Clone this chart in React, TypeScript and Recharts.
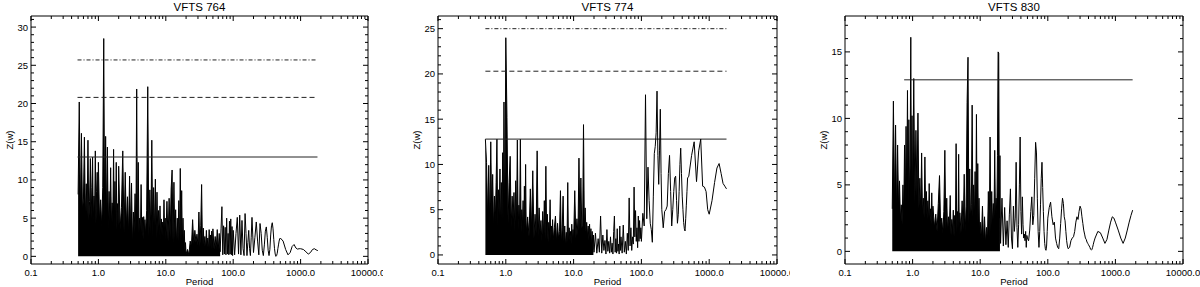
import React from "react";
import { Area, ComposedChart, Line, XAxis, YAxis } from "recharts";

// shared period grid (days)
const PERIODS = [
  0.5, 0.52, 0.54, 0.56, 0.58, 0.6, 0.62, 0.64, 0.66, 0.68, 0.7, 0.72, 0.74, 0.76, 0.78, 0.8, 0.82, 0.84, 0.86, 0.88, 0.9, 0.92, 0.94, 0.96, 0.98,
  1, 1.04, 1.08, 1.12, 1.16, 1.2, 1.24, 1.28, 1.32, 1.36, 1.4, 1.44, 1.48, 1.52, 1.56, 1.6, 1.64, 1.68, 1.72, 1.76, 1.8, 1.84, 1.88, 1.92, 1.96,
  2, 2.1, 2.2, 2.3, 2.4, 2.5, 2.6, 2.7, 2.8, 2.9, 3, 3.1, 3.2, 3.3, 3.4, 3.5, 3.6, 3.7, 3.8, 3.9, 4, 4.1, 4.2, 4.3, 4.4, 4.5, 4.6, 4.7, 4.8, 4.9,
  5, 5.2, 5.4, 5.6, 5.8, 6, 6.2, 6.4, 6.6, 6.8, 7, 7.2, 7.4, 7.6, 7.8, 8, 8.2, 8.4, 8.6, 8.8, 9, 9.2, 9.4, 9.6, 9.8,
  10, 10.4, 10.8, 11.2, 11.6, 12, 12.4, 12.8, 13.2, 13.6, 14, 14.4, 14.8, 15.2, 15.6, 16, 16.4, 16.8, 17.2, 17.6, 18, 18.4, 18.8, 19.2, 19.6,
  20, 21, 22, 23, 24, 25, 26, 27, 28, 29, 30, 31, 32, 33, 34, 35, 36, 37, 38, 39, 40, 41, 42, 43, 44, 45, 46, 47, 48, 49,
  50, 52, 54, 56, 58, 60, 62, 64, 66, 68, 70, 72, 74, 76, 78, 80, 82, 84, 86, 88, 90, 92, 94, 96, 98,
  100, 105, 110, 115, 120, 125, 130, 135, 140, 145, 150, 155, 160, 165, 170, 175, 180, 185, 190, 195,
  200, 210, 220, 230, 240, 250, 260, 270, 280, 290, 300, 310, 320, 330, 340, 350, 360, 370, 380, 390, 400, 410, 420, 430, 440, 450, 460, 470, 480, 490,
  500, 550, 600, 650, 700, 750, 800, 850, 900, 950,
  1000, 1100, 1200, 1300, 1400, 1500, 1600, 1700, 1800,
];

const Z_764 = [
  8.1, 20.2, 5.5, 16.1, 6.0, 7.5, 15.6, 4.8, 9.5, 5.2, 15.2, 4.6, 7.2, 12.8, 5.0, 9.0, 13.0, 4.4, 7.9, 5.6, 13.8, 4.2, 8.5, 11.0, 5.0,
  12.3, 4.5, 7.4, 3.8, 9.0, 28.5, 4.2, 15.7, 5.0, 14.3, 3.5, 8.5, 4.6, 11.6, 3.9, 7.0, 4.4, 14.0, 3.6, 9.8, 4.2, 12.3, 3.4, 6.9, 4.0,
  11.8, 3.6, 6.4, 13.8, 3.2, 11.0, 3.8, 7.8, 2.9, 10.5, 3.4, 9.6, 1.5, 5.8, 3.0, 8.2, 3.5, 21.9, 2.6, 12.3, 3.2, 5.0, 2.4, 9.4, 3.0, 5.1, 2.2, 5.2, 3.1, 4.8,
  2.8, 6.0, 22.2, 2.5, 8.7, 3.0, 15.2, 2.4, 9.0, 3.2, 10.1, 2.2, 8.4, 2.9, 6.0, 2.6, 6.6, 2.0, 4.9, 2.7, 4.5, 2.3, 7.4, 2.5, 5.0,
  2.2, 7.2, 2.0, 7.6, 2.4, 8.8, 11.3, 1.8, 9.7, 2.1, 6.1, 1.6, 5.0, 2.0, 7.3, 1.7, 11.5, 1.9, 8.6, 1.5, 5.0, 1.2, 3.4, 0.8, 1.8,
  0.3, 0.9, 0.2, 2.0, 1.2, 4.8, 1.6, 3.4, 1.8, 2.9, 1.5, 5.8, 1.2, 4.0, 9.4, 1.0, 3.7, 1.3, 2.6, 0.9, 3.4, 1.2, 2.4, 0.8, 3.5, 1.1, 2.8, 0.9, 3.3, 0.8,
  3.6, 0.9, 2.6, 1.0, 3.5, 0.8, 3.0, 0.6, 3.6, 6.5, 0.2, 4.0, 0.3, 3.8, 0.2, 5.0, 0.3, 3.0, 0.2, 4.6, 0.3, 4.9, 0.2, 3.9, 0.1,
  3.4, 0.2, 3.0, 5.1, 0.3, 5.4, 0.2, 4.7, 1.0, 0.1, 5.6, 3.0, 0.1, 1.8, 3.4, 1.0, 0.1, 2.5, 5.1, 2.8,
  0.5, 2.5, 4.5, 2.0, 0.2, 4.3, 3.0, 0.8, 0.1, 1.5, 3.3, 3.85, 2.5, 0.8, 0.1, 0.9, 2.8, 4.0, 4.4, 3.6, 2.2, 1.0, 0.3, 0.0, 0.1, 0.4, 1.0, 1.5, 2.0, 2.3,
  2.4, 2.0, 0.9, 0.2, 0.5, 1.3, 1.55, 1.1, 0.95, 1.0,
  1.0, 0.9, 0.6, 0.3, 0.5, 0.9, 1.0, 0.85, 0.75,
];

const Z_774 = [
  12.8, 10.2, 4.0, 9.9, 3.2, 12.5, 4.5, 8.9, 2.8, 6.5, 3.6, 8.0, 12.8, 3.0, 7.2, 4.2, 9.5, 2.6, 8.0, 3.8, 11.3, 3.0, 16.9, 4.4, 10.5,
  24.0, 15.2, 3.5, 8.0, 10.9, 3.0, 6.5, 4.0, 6.9, 2.6, 8.2, 3.4, 12.7, 2.8, 5.5, 3.6, 12.8, 2.5, 5.0, 3.2, 6.0, 2.2, 7.6, 3.0, 10.0,
  2.5, 4.2, 2.0, 7.3, 2.8, 9.3, 1.8, 4.5, 2.4, 11.5, 2.0, 5.2, 2.6, 3.8, 1.5, 4.8, 2.2, 6.0, 1.7, 9.8, 2.3, 4.5, 1.4, 3.6, 2.0, 6.1, 1.6, 3.2, 2.1, 3.9,
  1.6, 3.0, 4.3, 1.4, 3.5, 1.8, 2.6, 7.1, 1.2, 3.0, 6.5, 1.5, 3.2, 1.0, 2.5, 1.3, 8.0, 1.1, 3.0, 1.6, 2.6, 1.2, 3.4, 1.5, 2.8,
  1.5, 7.1, 1.8, 4.0, 2.2, 10.7, 2.8, 8.5, 3.0, 3.2, 14.4, 3.0, 5.2, 2.6, 3.6, 2.0, 3.2, 1.6, 3.4, 1.2, 2.9, 0.9, 2.6, 0.6, 2.2,
  0.3, 2.4, 0.2, 1.8, 0.3, 4.3, 0.2, 2.2, 0.5, 1.6, 0.1, 2.8, 0.4, 1.5, 0.2, 2.0, 0.3, 1.3, 0.1, 2.6, 4.3, 0.3, 1.8, 0.2, 2.9, 0.4, 1.2, 0.1, 3.2, 0.5,
  2.0, 0.2, 3.3, 0.3, 1.5, 0.1, 2.4, 0.5, 6.3, 1.0, 3.0, 0.5, 2.0, 1.2, 7.5, 2.0, 4.9, 1.5, 3.0, 0.8, 4.3, 1.5, 3.8, 1.8, 3.0,
  1.5, 4.6, 3.2, 17.7, 4.0, 9.7, 6.0, 3.5, 2.8, 1.4, 6.5, 11.2, 12.0, 13.5, 18.1, 11.0, 7.8, 11.5, 16.1, 9.0,
  5.0, 3.0, 4.8, 5.0, 5.4, 9.0, 11.0, 7.0, 3.2, 5.0, 7.0, 8.5, 8.7, 6.0, 3.5, 4.5, 7.0, 10.0, 11.8, 9.0, 6.5, 5.0, 3.6, 2.9, 2.65, 4.0, 5.5, 7.0, 8.5, 8.6,
  8.7, 11.0, 12.5, 8.1, 11.5, 12.8, 7.6, 7.5, 7.0, 5.0,
  4.5, 6.0, 8.0, 9.6, 10.1, 9.0, 7.9, 7.6, 7.3,
];

const Z_830 = [
  3.2, 11.3, 3.5, 9.5, 2.8, 8.0, 3.2, 5.3, 2.4, 3.5, 2.0, 5.0, 2.6, 8.0, 3.4, 9.4, 4.0, 12.1, 3.6, 9.9, 4.2, 6.5, 16.1, 4.5, 10.2,
  4.0, 13.0, 3.6, 9.1, 4.2, 10.4, 3.2, 5.5, 3.0, 7.4, 2.8, 4.0, 2.5, 7.1, 2.9, 4.5, 2.4, 3.8, 2.2, 5.1, 2.6, 3.2, 2.0, 4.4, 2.3,
  3.4, 1.8, 2.8, 1.5, 3.6, 5.7, 1.9, 2.5, 1.4, 3.0, 7.6, 1.6, 4.0, 1.3, 2.6, 1.7, 4.2, 1.2, 2.4, 1.6, 3.1, 1.1, 2.7, 1.5, 8.1, 1.3, 3.0, 1.6, 7.3, 1.2,
  2.9, 1.4, 3.8, 1.6, 5.8, 1.5, 3.4, 11.2, 14.6, 2.0, 6.2, 2.4, 3.5, 11.0, 2.6, 5.0, 2.2, 6.0, 2.5, 10.3, 2.0, 6.6, 1.6, 4.0, 1.2,
  2.2, 0.9, 3.4, 0.7, 2.6, 0.6, 1.8, 0.8, 4.5, 1.0, 8.6, 1.5, 4.5, 2.0, 3.6, 2.4, 7.6, 2.6, 4.0, 2.8, 7.2, 15.0, 14.9, 2.5, 7.2,
  0.6, 4.0, 0.4, 3.3, 0.5, 2.3, 0.3, 2.8, 4.7, 1.0, 0.2, 3.4, 1.5, 2.5, 6.7, 1.8, 0.3, 2.0, 5.0, 8.6, 3.0, 1.3, 4.1, 2.0, 1.0, 1.3, 0.8, 1.5, 0.3, 1.2,
  1.0, 0.8, 1.6, 3.0, 4.1, 2.0, 2.7, 5.5, 8.2, 7.4, 4.0, 1.5, 0.3, 1.5, 3.5, 5.5, 6.7, 4.8, 3.0, 1.5, 0.6, 0.2, 0.08, 0.4, 1.5,
  2.5, 3.3, 3.7, 2.6, 2.0, 2.2, 1.0, 0.6, 0.3, 0.2, 1.0, 2.1, 3.2, 4.0, 3.6, 2.6, 2.3, 1.5, 0.8, 0.4,
  0.2, 0.3, 0.8, 1.0, 1.1, 1.5, 2.2, 2.6, 2.4, 3.0, 3.4, 3.2, 2.6, 2.1, 1.6, 1.3, 1.0, 0.9, 0.7, 0.6, 0.5, 0.4, 0.3, 0.15, 0.1, 0.15, 0.3, 0.5, 0.7, 0.85,
  1.0, 1.5, 1.4, 1.0, 0.6, 0.9, 1.6, 2.2, 2.6, 2.5,
  2.2, 1.6, 1.0, 0.6, 1.0, 1.6, 2.2, 2.7, 3.1,
];

// false-alarm levels (dash-dot, dashed, solid)
const THRESH_764 = [25.7, 20.8, 13.0];
const THRESH_774 = [25.0, 20.3, 12.8];
const THRESH_830 = [12.9];
const SPAN_764 = [0.49, 1780];
const SPAN_774 = [0.5, 1800];
const SPAN_830 = [0.75, 1800];

const X_MAJOR = [0.1, 1, 10, 100, 1000, 10000];
const X_LABELS = ["0.1", "1.0", "10.0", "100.0", "1000.0", "10000.0"];
const X_MINOR = [
  0.2, 0.3, 0.4, 0.5, 0.6, 0.7, 0.8, 0.9, 2, 3, 4, 5, 6, 7, 8, 9, 20, 30, 40, 50, 60, 70, 80, 90,
  200, 300, 400, 500, 600, 700, 800, 900, 2000, 3000, 4000, 5000, 6000, 7000, 8000, 9000,
];
const X_TICKS = [...X_MAJOR, ...X_MINOR];

const FONT = "'Liberation Sans', Arial, Helvetica, sans-serif";
const INK = "#000";

const intTicks = (max: number) => Array.from({ length: max + 1 }, (_, i) => i);

function BottomTick(props: any) {
  const { x, y, payload } = props;
  const i = X_MAJOR.indexOf(payload.value);
  return (
    <g>
      <line x1={x} x2={x} y1={y} y2={y - (i >= 0 ? 5 : 3)} stroke={INK} />
      {i >= 0 && (
        <text x={x} y={y + 12} textAnchor="middle" fontSize={9.5} fontFamily={FONT} fill={INK}>
          {X_LABELS[i]}
        </text>
      )}
    </g>
  );
}

function TopTick(props: any) {
  const { x, y, payload } = props;
  const major = X_MAJOR.includes(payload.value);
  return <line x1={x} x2={x} y1={y} y2={y + (major ? 5 : 3)} stroke={INK} />;
}

function LeftTick(props: any) {
  const { x, y, payload } = props;
  const major = payload.value % 5 === 0;
  return (
    <g>
      <line x1={x} x2={x + (major ? 5 : 3)} y1={y} y2={y} stroke={INK} />
      {major && (
        <text x={x - 3} y={y + 3.5} textAnchor="end" fontSize={9.5} fontFamily={FONT} fill={INK}>
          {payload.value}
        </text>
      )}
    </g>
  );
}

function RightTick(props: any) {
  const { x, y, payload } = props;
  const major = payload.value % 5 === 0;
  return <line x1={x} x2={x - (major ? 5 : 3)} y1={y} y2={y} stroke={INK} />;
}

const DASHES = ["4 2 1 2", "5 3", undefined];

type PanelProps = {
  left: number;
  width: number;
  frameL: number;
  frameR: number;
  title: string;
  z: number[];
  thresholds: number[];
  span: number[];
  yDomain: [number, number];
  yMax: number;
  denseLimit: number;
};

function Panel({ left, width, frameL, frameR, title, z, thresholds, span, yDomain, yMax, denseLimit }: PanelProps) {
  const rows = PERIODS.map((p, i) => ({ p, z: z[i] }));
  // unresolved short-period forest drawn filled, the rest as a line
  const dense = rows.filter((r) => r.p <= denseLimit);
  const tail = rows.filter((r) => r.p >= denseLimit);
  const plotL = frameL - left;
  const plotR = frameR - left;
  const cx = (plotL + plotR) / 2;
  const yTicks = intTicks(yMax);
  const dashes = thresholds.length === 1 ? [undefined] : DASHES;

  return (
    <div style={{ position: "absolute", left, top: 0, width, height: 287, overflow: "hidden" }}>
      <ComposedChart
        width={width}
        height={287}
        margin={{ top: 15, right: width - plotR - 1, bottom: 22, left: plotL - 1 }}
      >
        <XAxis
          dataKey="p"
          type="number"
          scale="log"
          domain={[0.1, 10000]}
          allowDataOverflow
          ticks={X_TICKS}
          interval={0}
          tick={BottomTick}
          tickLine={false}
          tickSize={0}
          tickMargin={0}
          height={1}
          stroke={INK}
        />
        <XAxis
          xAxisId="t"
          orientation="top"
          dataKey="p"
          type="number"
          scale="log"
          domain={[0.1, 10000]}
          allowDataOverflow
          ticks={X_TICKS}
          interval={0}
          tick={TopTick}
          tickLine={false}
          tickSize={0}
          tickMargin={0}
          height={1}
          stroke={INK}
        />
        <YAxis
          type="number"
          domain={yDomain}
          allowDataOverflow
          ticks={yTicks}
          interval={0}
          tick={LeftTick}
          tickLine={false}
          tickSize={0}
          tickMargin={0}
          width={1}
          stroke={INK}
        />
        <YAxis
          yAxisId="r"
          orientation="right"
          type="number"
          domain={yDomain}
          allowDataOverflow
          ticks={yTicks}
          interval={0}
          tick={RightTick}
          tickLine={false}
          tickSize={0}
          tickMargin={0}
          width={1}
          stroke={INK}
        />
        {thresholds.map((t, i) => (
          <Line
            key={"t" + i}
            data={[
              { p: span[0], z: t },
              { p: span[1], z: t },
            ]}
            dataKey="z"
            xAxisId={i === thresholds.length - 1 ? "t" : 0}
            yAxisId={i === thresholds.length - 1 ? "r" : 0}
            stroke="#222"
            strokeWidth={1}
            strokeDasharray={dashes[i]}
            dot={false}
            activeDot={false}
            isAnimationActive={false}
          />
        ))}
        <Area
          data={dense}
          dataKey="z"
          type="linear"
          baseValue={0}
          stroke={INK}
          strokeWidth={1}
          fill={INK}
          fillOpacity={1}
          dot={false}
          activeDot={false}
          isAnimationActive={false}
        />
        <Line
          data={tail}
          dataKey="z"
          type="linear"
          stroke={INK}
          strokeWidth={1}
          dot={false}
          activeDot={false}
          isAnimationActive={false}
        />
      </ComposedChart>
      <div
        style={{
          position: "absolute",
          left: cx,
          top: 1,
          transform: "translateX(-50%)",
          fontSize: 11.5,
          lineHeight: "12px",
          whiteSpace: "nowrap",
        }}
      >
        {title}
      </div>
      <div
        style={{
          position: "absolute",
          left: cx,
          top: 282,
          transform: "translate(-50%, -50%)",
          fontSize: 9.5,
          lineHeight: "10px",
          whiteSpace: "nowrap",
        }}
      >
        Period
      </div>
      <div
        style={{
          position: "absolute",
          left: plotL - 21,
          top: 140,
          transform: "translate(-50%, -50%) rotate(-90deg)",
          fontSize: 9.5,
          lineHeight: "10px",
          whiteSpace: "nowrap",
        }}
      >
        Z(w)
      </div>
    </div>
  );
}

export default function App() {
  return (
    <div
      style={{
        position: "absolute",
        left: 0,
        top: 0,
        width: 1200,
        height: 287,
        background: "#fff",
        fontFamily: FONT,
        color: INK,
      }}
    >
      <Panel
        left={0}
        width={383}
        frameL={31}
        frameR={368}
        title="VFTS 764"
        z={Z_764}
        thresholds={THRESH_764}
        span={SPAN_764}
        yDomain={[-1, 31.45]}
        yMax={31}
        denseLimit={64}
      />
      <Panel
        left={400}
        width={390}
        frameL={438}
        frameR={777}
        title="VFTS 774"
        z={Z_774}
        thresholds={THRESH_774}
        span={SPAN_774}
        yDomain={[-1, 26.4]}
        yMax={26}
        denseLimit={19.6}
      />
      <Panel
        left={800}
        width={400}
        frameL={845}
        frameR={1183}
        title="VFTS 830"
        z={Z_830}
        thresholds={THRESH_830}
        span={SPAN_830}
        yDomain={[-0.95, 17.7]}
        yMax={17}
        denseLimit={19.6}
      />
    </div>
  );
}
